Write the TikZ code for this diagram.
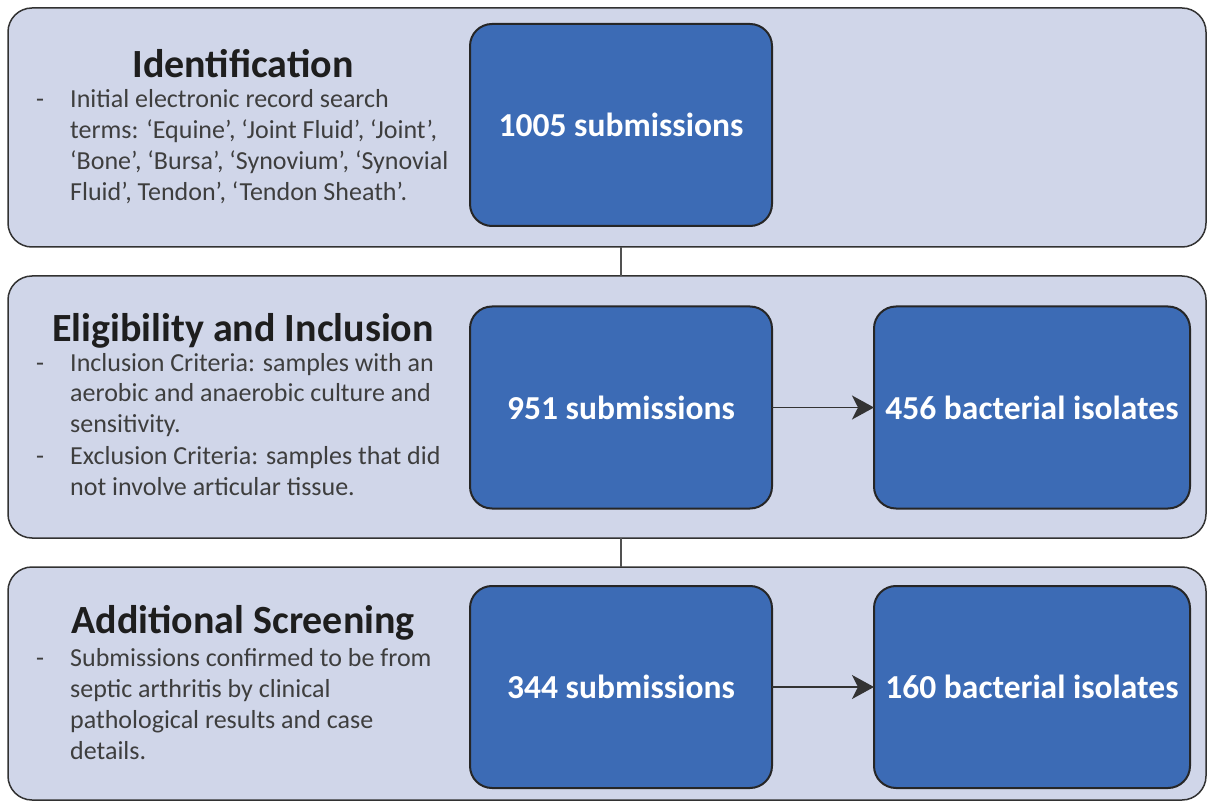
\documentclass[tikz,border=0pt]{standalone}
\usepackage{fontspec}
\setmainfont{Carlito}
\usetikzlibrary{arrows.meta}
\definecolor{panelfill}{RGB}{208,214,233}
\definecolor{boxblue}{RGB}{60,107,181}
\definecolor{bodytext}{RGB}{62,62,62}
\definecolor{headtext}{RGB}{30,30,30}
\definecolor{edge}{RGB}{50,50,50}
\begin{document}
\begin{tikzpicture}[x=1pt,y=-1pt,
  panel/.style={draw=edge, line width=1.5pt, fill=panelfill, rounded corners=24pt,
    inner sep=0pt, outer sep=0pt, minimum width=1198pt},
  bluebox/.style={draw=black!85, line width=2pt, fill=boxblue, rounded corners=22pt,
    minimum width=302pt, minimum height=202pt, text=white,
    font=\fontsize{33.5}{40}\selectfont\bfseries, inner sep=0pt, outer sep=0pt},
  widebox/.style={bluebox, minimum width=316pt},
  heading/.style={anchor=base, text=headtext, font=\fontsize{40}{48}\selectfont\bfseries, inner sep=0pt},
  bodyline/.style={anchor=base west, text=bodytext, font=\fontsize{26}{31}\selectfont, inner sep=0pt},
  link/.style={draw=edge!85, line width=1.5pt},
  flow/.style={draw=black!80, line width=1.5pt, -{Stealth[length=22pt,width=24pt,inset=6pt]}}
]
\useasboundingbox (0,0) rectangle (1208,802);

% panels
\node[panel, minimum height=239pt] (p1) at (607,127.5) {};
\node[panel, minimum height=262pt] (p2) at (607,407) {};
\node[panel, minimum height=233pt] (p3) at (607,683.5) {};

% blue boxes
\node[bluebox] (b1) at (621,125) {1005 submissions};
\node[bluebox] (b2) at (621,407.5) {951 submissions};
\node[widebox] (b3) at (1032,407.5) {456 bacterial isolates};
\node[bluebox] (b4) at (621,687) {344 submissions};
\node[widebox] (b5) at (1032,687) {160 bacterial isolates};

% connectors
\draw[link] (b1 |- p1.south) -- (b1 |- p2.north);
\draw[link] (b2 |- p2.south) -- (b2 |- p3.north);
\draw[flow] (b2.east) -- (b3.west);
\draw[flow] (b4.east) -- (b5.west);

% panel 1 text
\node[heading] (h1) at (243,78) {Identification};
\node[bodyline] (d11) at (36,108) {-};
\node[bodyline] (t11) at (70,108) {Initial electronic record search};
\node[bodyline] (t12) at (70,139) {terms: ‘Equine’, ‘Joint Fluid’, ‘Joint’,};
\node[bodyline] (t13) at (70,170) {‘Bone’, ‘Bursa’, ‘Synovium’, ‘Synovial};
\node[bodyline] (t14) at (70,201) {Fluid’, Tendon’, ‘Tendon Sheath’.};

% panel 2 text
\node[heading] (h2) at (243,342) {Eligibility and Inclusion};
\node[bodyline] (d21) at (36,372) {-};
\node[bodyline] (t21) at (70,372) {Inclusion Criteria: samples with an};
\node[bodyline] (t22) at (70,402) {aerobic and anaerobic culture and};
\node[bodyline] (t23) at (70,432) {sensitivity.};
\node[bodyline] (d22) at (36,464) {-};
\node[bodyline] (t24) at (70,464) {Exclusion Criteria: samples that did};
\node[bodyline] (t25) at (70,495) {not involve articular tissue.};

% panel 3 text
\node[heading] (h3) at (243,633) {Additional Screening};
\node[bodyline] (d31) at (36,666) {-};
\node[bodyline] (t31) at (70,666) {Submissions confirmed to be from};
\node[bodyline] (t32) at (70,697) {septic arthritis by clinical};
\node[bodyline] (t33) at (70,728) {pathological results and case};
\node[bodyline] (t34) at (70,759) {details.};
\end{tikzpicture}
\end{document}
